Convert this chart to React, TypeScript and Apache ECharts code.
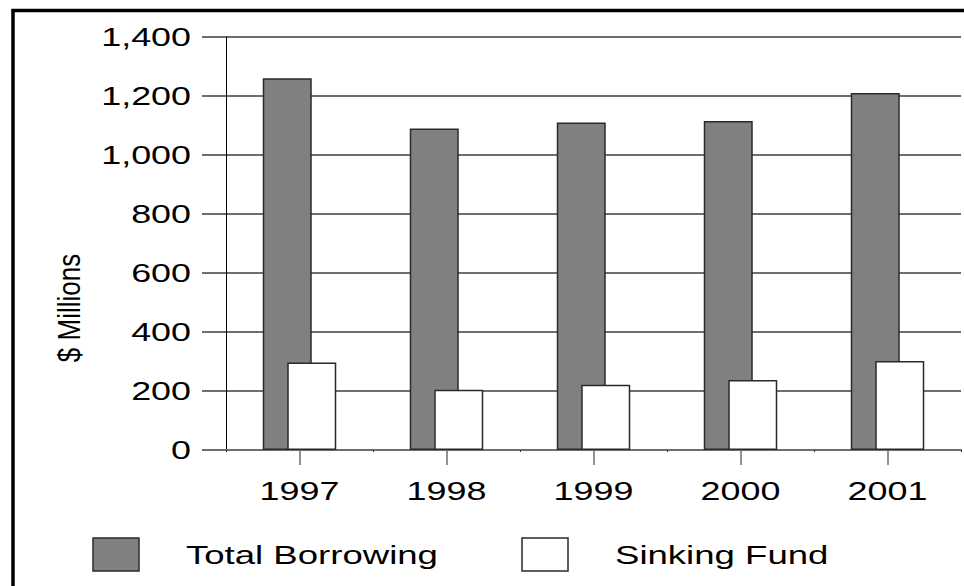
import React, { useEffect, useRef } from "react";
import * as echarts from "echarts";

// Chart data
const years = ["1997", "1998", "1999", "2000", "2001"];
const totalBorrowing = [1260, 1090, 1110, 1115, 1210];
const sinkingFund = [297, 204, 221, 237, 302];
const yTicks = [0, 200, 400, 600, 800, 1000, 1200, 1400];
const seriesNames = ["Total Borrowing", "Sinking Fund"];
const yAxisTitle = "$ Millions";

const FONT = '"Liberation Sans", Arial, Helvetica, sans-serif';
const GRID = "#6e6e6e";
const EDGE = "#2a2a2a";
const WIDE = 1.38; // horizontal stretch of the lettering

const fmt = (v: number) => v.toLocaleString("en-US");

function textEl(text: string, x: number, y: number, size: number, align: string, extra: any = {}) {
  return {
    type: "text",
    x,
    y,
    scaleX: WIDE,
    silent: true,
    ...extra,
    style: {
      text,
      fill: "#000",
      font: `${size}px ${FONT}`,
      align,
      textAlign: align,
      verticalAlign: "middle",
      textVerticalAlign: "middle",
    },
  };
}

export default function App() {
  const ref = useRef<HTMLDivElement>(null);

  useEffect(() => {
    if (!ref.current) return;
    const chart = echarts.init(ref.current, null, { renderer: "svg" });

    chart.setOption({
      animation: false,
      backgroundColor: "#ffffff",
      grid: { left: 226, right: 3, top: 37, bottom: 136, containLabel: false },
      xAxis: [
        {
          type: "category",
          data: years,
          position: "bottom",
          axisLine: { show: true, lineStyle: { color: GRID, width: 2 } },
          axisTick: { show: true, alignWithLabel: true, length: 15, lineStyle: { color: GRID, width: 1.5 } },
          axisLabel: { show: false },
          splitLine: { show: false },
        },
        {
          type: "category",
          data: years,
          position: "bottom",
          axisLine: { show: false },
          axisTick: { show: true, alignWithLabel: false, length: 2, lineStyle: { color: "#333", width: 1 } },
          axisLabel: { show: false },
          splitLine: { show: false },
        },
      ],
      yAxis: {
        type: "value",
        min: 0,
        max: 1400,
        interval: 200,
        axisLine: { show: true, lineStyle: { color: "#000", width: 1 } },
        axisTick: { show: true, length: 24, lineStyle: { color: GRID, width: 2 } },
        axisLabel: { show: false },
        splitLine: { show: true, lineStyle: { color: GRID, width: 2 } },
      },
      series: [
        {
          name: seriesNames[0],
          type: "bar",
          data: totalBorrowing,
          barWidth: 49,
          barGap: "-50%",
          itemStyle: { color: "#808080", borderColor: EDGE, borderWidth: 1.5 },
        },
        {
          name: seriesNames[1],
          type: "bar",
          data: sinkingFund,
          barWidth: 49,
          barGap: "-50%",
          itemStyle: { color: "#ffffff", borderColor: EDGE, borderWidth: 1.5 },
        },
      ],
    });

    const gfx: any[] = [];

    // outer frame
    gfx.push({
      type: "rect",
      silent: true,
      shape: { x: 13, y: 10.5, width: 1000, height: 1000 },
      style: { fill: "none", stroke: "#000", lineWidth: 3.5 },
    });

    // value-axis tick labels
    yTicks.forEach((v) => {
      const py = chart.convertToPixel({ yAxisIndex: 0 }, v) as number;
      gfx.push(textEl(fmt(v), 191, py, 26, "right"));
    });

    // category labels
    years.forEach((yr) => {
      const px = chart.convertToPixel({ xAxisIndex: 0 }, yr) as number;
      gfx.push(textEl(yr, px, 491, 26, "center"));
    });

    // axis title
    gfx.push({
      type: "text",
      x: 69,
      y: 308,
      rotation: Math.PI / 2,
      scaleY: 1.2,
      silent: true,
      style: {
        text: yAxisTitle,
        fill: "#000",
        font: `26px ${FONT}`,
        align: "center",
        textAlign: "center",
        verticalAlign: "middle",
        textVerticalAlign: "middle",
      },
    });

    // legend
    const legendItems = [
      { name: seriesNames[0], fill: "#808080", box: 93, label: 186 },
      { name: seriesNames[1], fill: "#ffffff", box: 522, label: 615 },
    ];
    legendItems.forEach((it) => {
      gfx.push({
        type: "rect",
        silent: true,
        shape: { x: it.box, y: 538, width: 46, height: 33 },
        style: { fill: it.fill, stroke: EDGE, lineWidth: 1.5 },
      });
      gfx.push(textEl(it.name, it.label, 555, 26.5, "left"));
    });

    chart.setOption({ graphic: gfx });

    return () => chart.dispose();
  }, []);

  return (
    <div
      ref={ref}
      style={{ position: "absolute", left: 0, top: 0, width: 964, height: 586, background: "#fff" }}
    />
  );
}
